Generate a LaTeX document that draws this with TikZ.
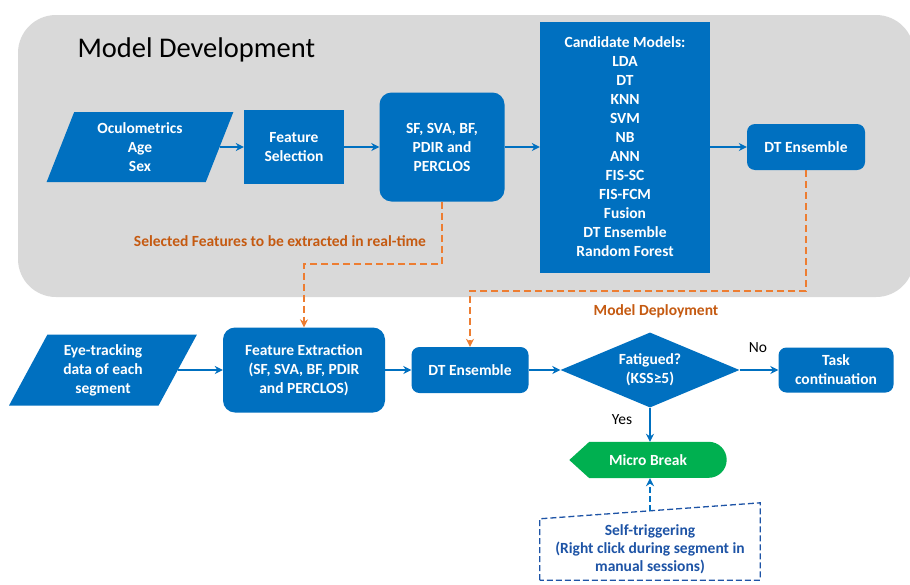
\documentclass[tikz,border=0pt]{standalone}
\usepackage{fontspec}
\setmainfont{Carlito}
\usetikzlibrary{shapes.geometric,arrows.meta,backgrounds}

\definecolor{boxblue}{RGB}{0,112,192}
\definecolor{linkorange}{RGB}{237,125,49}
\definecolor{labelorange}{RGB}{197,90,17}
\definecolor{breakgreen}{RGB}{0,176,80}
\definecolor{panelgray}{RGB}{217,217,217}
\definecolor{trigblue}{RGB}{30,84,166}

\tikzset{
	proc/.style={fill=boxblue, text=white, font=\bfseries\fontsize{15.5}{19}\selectfont, align=center, inner sep=0pt},
	roundproc/.style={proc, rounded corners=12pt},
	datain/.style={proc, trapezium, trapezium left angle=70, trapezium right angle=110, trapezium stretches=true},
	decide/.style={proc, diamond, aspect=2.4},
	flow/.style={boxblue, line width=1.6pt, -{Stealth[length=8pt,width=8pt]}},
	feed/.style={linkorange, line width=1.6pt, dash pattern=on 7pt off 4pt, -{Stealth[length=8pt,width=8pt]}},
	trigline/.style={trigblue, line width=1.3pt, dash pattern=on 6pt off 3pt},
}

\begin{document}
\begin{tikzpicture}[x=1pt,y=-1pt]
		\useasboundingbox (0,0) rectangle (910,584);

		\node[font=\fontsize{28.5}{32}\selectfont, anchor=west] (devtitle) at (74,50) {Model Development};

		\node[datain, minimum width=187pt, minimum height=70pt] (ocu) at (140,147) {Oculometrics\\Age\\Sex};
		\node[proc, minimum width=100pt, minimum height=74pt] (fsel) at (294,147) {Feature\\Selection};
		\node[roundproc, minimum width=125pt, minimum height=109pt] (sfbox) at (442,147) {SF, SVA, BF,\\PDIR and\\PERCLOS};
		\node[proc, minimum width=170pt, minimum height=251pt] (cand) at (625,147) {Candidate Models:\\LDA\\DT\\KNN\\SVM\\NB\\ANN\\FIS-SC\\FIS-FCM\\Fusion\\DT Ensemble\\Random Forest};
		\node[roundproc, rounded corners=8pt, minimum width=118pt, minimum height=46pt] (dtdev) at (806,147) {DT Ensemble};

		\draw[flow] (ocu) -- (fsel);
		\draw[flow] (fsel) -- (sfbox);
		\draw[flow] (sfbox) -- (cand);
		\draw[flow] (cand) -- (dtdev);

		\node[font=\bfseries\fontsize{15.5}{18}\selectfont, text=labelorange] (sellbl) at (280,241) {Selected Features to be extracted in real-time};
		\node[font=\bfseries\fontsize{15.5}{18}\selectfont, text=labelorange] (deplbl) at (656,311) {Model Deployment};

		\node[datain, trapezium left angle=62, trapezium right angle=118, minimum width=188pt, minimum height=71pt] (eye) at (103,370) {Eye-tracking\\data of each\\segment};
		\node[roundproc, minimum width=162pt, minimum height=85pt] (fext) at (304,370) {Feature Extraction\\(SF, SVA, BF, PDIR\\and PERCLOS)};
		\node[roundproc, rounded corners=8pt, minimum width=117pt, minimum height=46pt] (dtdep) at (470,370) {DT Ensemble};
		\node[decide, minimum width=179pt, minimum height=75pt] (fat) at (650,370) {Fatigued?\\(KSS≥5)};
		\node[roundproc, rounded corners=8pt, minimum width=115pt, minimum height=45pt] (task) at (836,370) {Task\\continuation};
		\node[font=\bfseries\fontsize{15.5}{19}\selectfont, text=white, minimum width=157pt, minimum height=36pt, inner sep=0pt] (mb) at (648,460) {Micro Break};
		\node[font=\bfseries\fontsize{15.5}{18}\selectfont, text=trigblue, align=center, minimum width=220pt, minimum height=61pt, inner sep=0pt] (trig) at (650,549.5) {Self-triggering\\(Right click during segment in\\manual sessions)};
		\coordinate (trigtop) at ([yshift=8pt]trig.north);

		\node[font=\fontsize{15.5}{18}\selectfont] (nolbl) at (758,348) {No};
		\node[font=\fontsize{15.5}{18}\selectfont] (yeslbl) at (622,420) {Yes};

		\draw[feed] (sfbox.south) -- ++(0,62) -| (fext.north);
		\draw[feed] (dtdev.south) -- ++(0,121) -| (dtdep.north);

		\draw[flow] (eye) -- (fext);
		\draw[flow] (fext) -- (dtdep);
		\draw[flow] (dtdep) -- (fat);
		\draw[flow] (fat) -- (task);
		\draw[flow] (fat.south) -- (fat.south |- mb.north);
		\draw[trigline] (trig.south west) -- (trig.north west) -- ([yshift=16pt]trig.north east) -- (trig.south east) -- cycle;
		\draw[flow, dash pattern=on 6pt off 3pt] (trigtop) -- (trigtop |- mb.south);

		\begin{pgfonlayer}{background}
			\fill[white] (0,0) rectangle (910,584);
			\fill[panelgray, rounded corners=38pt] (18,15) rectangle (914,297);
			\fill[breakgreen] (mb.west) -- ([xshift=20pt]mb.north west) -- ([xshift=-18pt]mb.north east) arc[start angle=90, end angle=-90, radius=18pt] -- ([xshift=20pt]mb.south west) -- cycle;
		\end{pgfonlayer}
	\end{tikzpicture}
\end{document}
